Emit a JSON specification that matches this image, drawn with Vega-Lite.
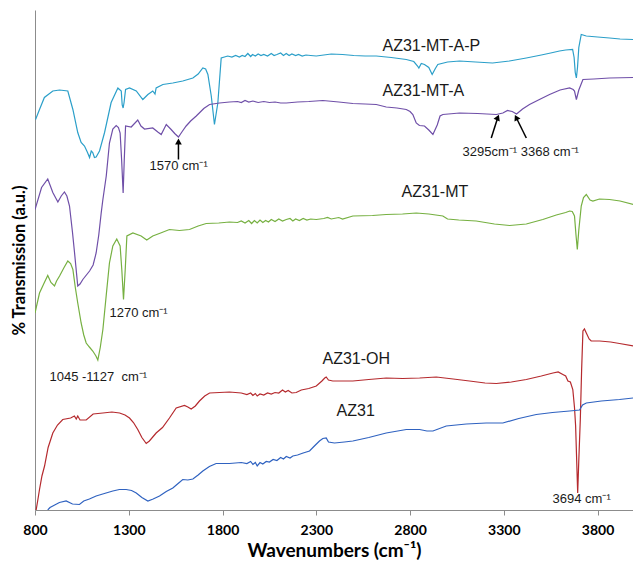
{
"$schema":"https://vega.github.io/schema/vega-lite/v6.json",
"width":598,"height":500,
"autosize":{"type":"none"},
"padding":{"left":35,"top":10,"right":0,"bottom":55},
"background":"white",
"config":{"view":{"stroke":null},
"axisX":{"tickSize":5,"tickColor":"#8c8c8c","domainColor":"#8c8c8c","grid":false,"labelFont":"Lato","labelFontWeight":"bold","labelFontSize":14,"labelColor":"#000","labelPadding":8,"labelFlush":false,"titleFont":"Lato","titleFontSize":19,"titleFontWeight":"bold","titleColor":"#000","titlePadding":4},
"axisY":{"ticks":false,"labels":false,"grid":false,"domainColor":"#8c8c8c","titleFont":"Lato","titleFontSize":16.5,"titleFontWeight":"bold","titleColor":"#000","titlePadding":8}},
"datasets":{
"spectra":[
{"s":"AZ31-MT-A-P","x":803,"y":78.1},{"s":"AZ31-MT-A-P","x":824,"y":80.1},{"s":"AZ31-MT-A-P","x":850,"y":82.5},{"s":"AZ31-MT-A-P","x":895,"y":83.8},{"s":"AZ31-MT-A-P","x":931,"y":84.0},{"s":"AZ31-MT-A-P","x":975,"y":83.8},{"s":"AZ31-MT-A-P","x":1002,"y":80.1},{"s":"AZ31-MT-A-P","x":1028,"y":75.5},{"s":"AZ31-MT-A-P","x":1046,"y":73.5},{"s":"AZ31-MT-A-P","x":1064,"y":72.8},{"s":"AZ31-MT-A-P","x":1080,"y":71.5},{"s":"AZ31-MT-A-P","x":1091,"y":70.5},{"s":"AZ31-MT-A-P","x":1100,"y":71.8},{"s":"AZ31-MT-A-P","x":1108,"y":71.5},{"s":"AZ31-MT-A-P","x":1117,"y":70.5},{"s":"AZ31-MT-A-P","x":1126,"y":70.6},{"s":"AZ31-MT-A-P","x":1144,"y":71.8},{"s":"AZ31-MT-A-P","x":1171,"y":75.5},{"s":"AZ31-MT-A-P","x":1206,"y":81.5},{"s":"AZ31-MT-A-P","x":1242,"y":84.4},{"s":"AZ31-MT-A-P","x":1260,"y":83.8},{"s":"AZ31-MT-A-P","x":1265,"y":81.0},{"s":"AZ31-MT-A-P","x":1270,"y":80.4},{"s":"AZ31-MT-A-P","x":1275,"y":81.5},{"s":"AZ31-MT-A-P","x":1283,"y":84.1},{"s":"AZ31-MT-A-P","x":1304,"y":84.4},{"s":"AZ31-MT-A-P","x":1340,"y":83.8},{"s":"AZ31-MT-A-P","x":1375,"y":82.1},{"s":"AZ31-MT-A-P","x":1402,"y":83.1},{"s":"AZ31-MT-A-P","x":1428,"y":83.8},{"s":"AZ31-MT-A-P","x":1440,"y":83.2},{"s":"AZ31-MT-A-P","x":1446,"y":84.4},{"s":"AZ31-MT-A-P","x":1482,"y":85.1},{"s":"AZ31-MT-A-P","x":1535,"y":85.4},{"s":"AZ31-MT-A-P","x":1588,"y":85.8},{"s":"AZ31-MT-A-P","x":1642,"y":86.4},{"s":"AZ31-MT-A-P","x":1670,"y":87.2},{"s":"AZ31-MT-A-P","x":1695,"y":88.4},{"s":"AZ31-MT-A-P","x":1710,"y":88.2},{"s":"AZ31-MT-A-P","x":1722,"y":87.1},{"s":"AZ31-MT-A-P","x":1740,"y":82.8},{"s":"AZ31-MT-A-P","x":1757,"y":77.1},{"s":"AZ31-MT-A-P","x":1775,"y":81.4},{"s":"AZ31-MT-A-P","x":1793,"y":90.4},{"s":"AZ31-MT-A-P","x":1828,"y":90.8},{"s":"AZ31-MT-A-P","x":1850,"y":90.6},{"s":"AZ31-MT-A-P","x":1870,"y":90.9},{"s":"AZ31-MT-A-P","x":1890,"y":90.6},{"s":"AZ31-MT-A-P","x":1905,"y":90.9},{"s":"AZ31-MT-A-P","x":1920,"y":90.7},{"s":"AZ31-MT-A-P","x":1935,"y":91.3},{"s":"AZ31-MT-A-P","x":1950,"y":90.7},{"s":"AZ31-MT-A-P","x":1960,"y":91.1},{"s":"AZ31-MT-A-P","x":1975,"y":90.8},{"s":"AZ31-MT-A-P","x":1990,"y":91.2},{"s":"AZ31-MT-A-P","x":2005,"y":90.9},{"s":"AZ31-MT-A-P","x":2020,"y":91.1},{"s":"AZ31-MT-A-P","x":2040,"y":90.8},{"s":"AZ31-MT-A-P","x":2060,"y":91.3},{"s":"AZ31-MT-A-P","x":2075,"y":90.9},{"s":"AZ31-MT-A-P","x":2090,"y":91.1},{"s":"AZ31-MT-A-P","x":2110,"y":91.4},{"s":"AZ31-MT-A-P","x":2125,"y":90.9},{"s":"AZ31-MT-A-P","x":2140,"y":91.3},{"s":"AZ31-MT-A-P","x":2155,"y":90.9},{"s":"AZ31-MT-A-P","x":2170,"y":91.2},{"s":"AZ31-MT-A-P","x":2190,"y":90.9},{"s":"AZ31-MT-A-P","x":2205,"y":91.1},{"s":"AZ31-MT-A-P","x":2225,"y":90.8},{"s":"AZ31-MT-A-P","x":2245,"y":91.0},{"s":"AZ31-MT-A-P","x":2270,"y":90.9},{"s":"AZ31-MT-A-P","x":2300,"y":90.8},{"s":"AZ31-MT-A-P","x":2340,"y":91.0},{"s":"AZ31-MT-A-P","x":2380,"y":91.2},{"s":"AZ31-MT-A-P","x":2440,"y":91.1},{"s":"AZ31-MT-A-P","x":2500,"y":90.9},{"s":"AZ31-MT-A-P","x":2560,"y":90.8},{"s":"AZ31-MT-A-P","x":2620,"y":90.8},{"s":"AZ31-MT-A-P","x":2700,"y":90.5},{"s":"AZ31-MT-A-P","x":2780,"y":90.1},{"s":"AZ31-MT-A-P","x":2820,"y":89.7},{"s":"AZ31-MT-A-P","x":2840,"y":88.8},{"s":"AZ31-MT-A-P","x":2847,"y":88.4},{"s":"AZ31-MT-A-P","x":2860,"y":89.3},{"s":"AZ31-MT-A-P","x":2877,"y":89.1},{"s":"AZ31-MT-A-P","x":2900,"y":88.5},{"s":"AZ31-MT-A-P","x":2918,"y":87.1},{"s":"AZ31-MT-A-P","x":2935,"y":88.3},{"s":"AZ31-MT-A-P","x":2948,"y":89.1},{"s":"AZ31-MT-A-P","x":3000,"y":89.6},{"s":"AZ31-MT-A-P","x":3064,"y":89.8},{"s":"AZ31-MT-A-P","x":3150,"y":89.6},{"s":"AZ31-MT-A-P","x":3240,"y":89.4},{"s":"AZ31-MT-A-P","x":3330,"y":89.8},{"s":"AZ31-MT-A-P","x":3420,"y":90.4},{"s":"AZ31-MT-A-P","x":3500,"y":91.0},{"s":"AZ31-MT-A-P","x":3550,"y":91.4},{"s":"AZ31-MT-A-P","x":3597,"y":91.8},{"s":"AZ31-MT-A-P","x":3630,"y":92.0},{"s":"AZ31-MT-A-P","x":3667,"y":92.1},{"s":"AZ31-MT-A-P","x":3675,"y":90.5},{"s":"AZ31-MT-A-P","x":3681,"y":87.5},{"s":"AZ31-MT-A-P","x":3687,"y":86.4},{"s":"AZ31-MT-A-P","x":3693,"y":88.5},{"s":"AZ31-MT-A-P","x":3700,"y":92.5},{"s":"AZ31-MT-A-P","x":3713,"y":95.1},{"s":"AZ31-MT-A-P","x":3740,"y":94.8},{"s":"AZ31-MT-A-P","x":3800,"y":94.6},{"s":"AZ31-MT-A-P","x":3864,"y":94.4},{"s":"AZ31-MT-A-P","x":3920,"y":94.2},{"s":"AZ31-MT-A-P","x":3990,"y":94.1},
{"s":"AZ31-MT-A","x":800,"y":60.1},{"s":"AZ31-MT-A","x":835,"y":64.5},{"s":"AZ31-MT-A","x":868,"y":66.2},{"s":"AZ31-MT-A","x":895,"y":63.5},{"s":"AZ31-MT-A","x":922,"y":61.6},{"s":"AZ31-MT-A","x":940,"y":62.8},{"s":"AZ31-MT-A","x":957,"y":63.6},{"s":"AZ31-MT-A","x":970,"y":62.8},{"s":"AZ31-MT-A","x":984,"y":60.8},{"s":"AZ31-MT-A","x":1000,"y":55.5},{"s":"AZ31-MT-A","x":1011,"y":51.4},{"s":"AZ31-MT-A","x":1028,"y":44.8},{"s":"AZ31-MT-A","x":1040,"y":45.2},{"s":"AZ31-MT-A","x":1055,"y":46.1},{"s":"AZ31-MT-A","x":1091,"y":47.8},{"s":"AZ31-MT-A","x":1110,"y":49.0},{"s":"AZ31-MT-A","x":1126,"y":51.4},{"s":"AZ31-MT-A","x":1140,"y":55.0},{"s":"AZ31-MT-A","x":1153,"y":59.4},{"s":"AZ31-MT-A","x":1162,"y":62.1},{"s":"AZ31-MT-A","x":1180,"y":66.8},{"s":"AZ31-MT-A","x":1197,"y":73.4},{"s":"AZ31-MT-A","x":1215,"y":76.2},{"s":"AZ31-MT-A","x":1233,"y":76.9},{"s":"AZ31-MT-A","x":1245,"y":76.5},{"s":"AZ31-MT-A","x":1254,"y":75.4},{"s":"AZ31-MT-A","x":1262,"y":70.0},{"s":"AZ31-MT-A","x":1270,"y":63.4},{"s":"AZ31-MT-A","x":1276,"y":70.0},{"s":"AZ31-MT-A","x":1283,"y":76.8},{"s":"AZ31-MT-A","x":1313,"y":76.6},{"s":"AZ31-MT-A","x":1348,"y":78.0},{"s":"AZ31-MT-A","x":1365,"y":76.8},{"s":"AZ31-MT-A","x":1384,"y":76.2},{"s":"AZ31-MT-A","x":1428,"y":76.4},{"s":"AZ31-MT-A","x":1455,"y":75.6},{"s":"AZ31-MT-A","x":1473,"y":75.1},{"s":"AZ31-MT-A","x":1500,"y":77.1},{"s":"AZ31-MT-A","x":1526,"y":76.1},{"s":"AZ31-MT-A","x":1545,"y":75.3},{"s":"AZ31-MT-A","x":1565,"y":74.6},{"s":"AZ31-MT-A","x":1585,"y":75.7},{"s":"AZ31-MT-A","x":1606,"y":76.8},{"s":"AZ31-MT-A","x":1630,"y":77.8},{"s":"AZ31-MT-A","x":1660,"y":78.8},{"s":"AZ31-MT-A","x":1700,"y":80.3},{"s":"AZ31-MT-A","x":1731,"y":81.1},{"s":"AZ31-MT-A","x":1784,"y":81.4},{"s":"AZ31-MT-A","x":1837,"y":81.6},{"s":"AZ31-MT-A","x":1880,"y":81.7},{"s":"AZ31-MT-A","x":1900,"y":81.5},{"s":"AZ31-MT-A","x":1920,"y":81.9},{"s":"AZ31-MT-A","x":1940,"y":81.6},{"s":"AZ31-MT-A","x":1962,"y":81.8},{"s":"AZ31-MT-A","x":1990,"y":81.5},{"s":"AZ31-MT-A","x":2020,"y":81.7},{"s":"AZ31-MT-A","x":2050,"y":81.5},{"s":"AZ31-MT-A","x":2080,"y":81.6},{"s":"AZ31-MT-A","x":2110,"y":81.4},{"s":"AZ31-MT-A","x":2140,"y":81.4},{"s":"AZ31-MT-A","x":2200,"y":81.6},{"s":"AZ31-MT-A","x":2260,"y":81.7},{"s":"AZ31-MT-A","x":2335,"y":81.9},{"s":"AZ31-MT-A","x":2420,"y":81.6},{"s":"AZ31-MT-A","x":2495,"y":81.3},{"s":"AZ31-MT-A","x":2560,"y":81.2},{"s":"AZ31-MT-A","x":2620,"y":81.1},{"s":"AZ31-MT-A","x":2673,"y":80.6},{"s":"AZ31-MT-A","x":2730,"y":80.4},{"s":"AZ31-MT-A","x":2780,"y":80.1},{"s":"AZ31-MT-A","x":2800,"y":79.7},{"s":"AZ31-MT-A","x":2815,"y":79.1},{"s":"AZ31-MT-A","x":2833,"y":77.4},{"s":"AZ31-MT-A","x":2850,"y":76.9},{"s":"AZ31-MT-A","x":2877,"y":76.8},{"s":"AZ31-MT-A","x":2900,"y":76.0},{"s":"AZ31-MT-A","x":2922,"y":75.1},{"s":"AZ31-MT-A","x":2945,"y":77.0},{"s":"AZ31-MT-A","x":2960,"y":78.8},{"s":"AZ31-MT-A","x":2975,"y":79.1},{"s":"AZ31-MT-A","x":3064,"y":79.4},{"s":"AZ31-MT-A","x":3160,"y":79.3},{"s":"AZ31-MT-A","x":3260,"y":79.1},{"s":"AZ31-MT-A","x":3295,"y":79.4},{"s":"AZ31-MT-A","x":3320,"y":79.9},{"s":"AZ31-MT-A","x":3345,"y":79.7},{"s":"AZ31-MT-A","x":3368,"y":79.2},{"s":"AZ31-MT-A","x":3400,"y":80.2},{"s":"AZ31-MT-A","x":3437,"y":81.1},{"s":"AZ31-MT-A","x":3490,"y":82.1},{"s":"AZ31-MT-A","x":3544,"y":83.1},{"s":"AZ31-MT-A","x":3600,"y":84.0},{"s":"AZ31-MT-A","x":3651,"y":84.4},{"s":"AZ31-MT-A","x":3670,"y":84.1},{"s":"AZ31-MT-A","x":3677,"y":83.8},{"s":"AZ31-MT-A","x":3687,"y":82.1},{"s":"AZ31-MT-A","x":3700,"y":84.0},{"s":"AZ31-MT-A","x":3722,"y":86.1},{"s":"AZ31-MT-A","x":3780,"y":86.2},{"s":"AZ31-MT-A","x":3864,"y":86.4},{"s":"AZ31-MT-A","x":3990,"y":86.5},
{"s":"AZ31-MT","x":800,"y":39.4},{"s":"AZ31-MT","x":824,"y":43.4},{"s":"AZ31-MT","x":850,"y":45.5},{"s":"AZ31-MT","x":868,"y":46.9},{"s":"AZ31-MT","x":885,"y":45.5},{"s":"AZ31-MT","x":904,"y":44.8},{"s":"AZ31-MT","x":915,"y":45.8},{"s":"AZ31-MT","x":931,"y":46.8},{"s":"AZ31-MT","x":955,"y":48.5},{"s":"AZ31-MT","x":975,"y":49.8},{"s":"AZ31-MT","x":990,"y":49.3},{"s":"AZ31-MT","x":1002,"y":48.1},{"s":"AZ31-MT","x":1015,"y":44.5},{"s":"AZ31-MT","x":1028,"y":41.4},{"s":"AZ31-MT","x":1046,"y":37.4},{"s":"AZ31-MT","x":1060,"y":35.0},{"s":"AZ31-MT","x":1073,"y":33.4},{"s":"AZ31-MT","x":1090,"y":32.6},{"s":"AZ31-MT","x":1108,"y":31.8},{"s":"AZ31-MT","x":1125,"y":30.8},{"s":"AZ31-MT","x":1135,"y":30.0},{"s":"AZ31-MT","x":1148,"y":32.5},{"s":"AZ31-MT","x":1162,"y":36.1},{"s":"AZ31-MT","x":1180,"y":43.0},{"s":"AZ31-MT","x":1197,"y":49.4},{"s":"AZ31-MT","x":1215,"y":52.8},{"s":"AZ31-MT","x":1236,"y":54.2},{"s":"AZ31-MT","x":1254,"y":52.8},{"s":"AZ31-MT","x":1263,"y":48.0},{"s":"AZ31-MT","x":1272,"y":42.1},{"s":"AZ31-MT","x":1281,"y":48.0},{"s":"AZ31-MT","x":1290,"y":54.8},{"s":"AZ31-MT","x":1322,"y":55.4},{"s":"AZ31-MT","x":1366,"y":54.8},{"s":"AZ31-MT","x":1396,"y":54.0},{"s":"AZ31-MT","x":1428,"y":54.8},{"s":"AZ31-MT","x":1470,"y":55.4},{"s":"AZ31-MT","x":1517,"y":56.1},{"s":"AZ31-MT","x":1570,"y":55.9},{"s":"AZ31-MT","x":1624,"y":56.1},{"s":"AZ31-MT","x":1670,"y":56.8},{"s":"AZ31-MT","x":1713,"y":57.3},{"s":"AZ31-MT","x":1780,"y":57.4},{"s":"AZ31-MT","x":1837,"y":57.6},{"s":"AZ31-MT","x":1880,"y":57.5},{"s":"AZ31-MT","x":1900,"y":57.8},{"s":"AZ31-MT","x":1920,"y":57.4},{"s":"AZ31-MT","x":1940,"y":57.9},{"s":"AZ31-MT","x":1955,"y":57.3},{"s":"AZ31-MT","x":1970,"y":57.9},{"s":"AZ31-MT","x":1985,"y":57.4},{"s":"AZ31-MT","x":2000,"y":58.0},{"s":"AZ31-MT","x":2015,"y":57.5},{"s":"AZ31-MT","x":2030,"y":57.9},{"s":"AZ31-MT","x":2045,"y":57.6},{"s":"AZ31-MT","x":2060,"y":58.1},{"s":"AZ31-MT","x":2080,"y":57.7},{"s":"AZ31-MT","x":2100,"y":58.2},{"s":"AZ31-MT","x":2120,"y":57.8},{"s":"AZ31-MT","x":2140,"y":58.1},{"s":"AZ31-MT","x":2160,"y":58.3},{"s":"AZ31-MT","x":2175,"y":57.8},{"s":"AZ31-MT","x":2190,"y":58.2},{"s":"AZ31-MT","x":2210,"y":57.9},{"s":"AZ31-MT","x":2230,"y":58.3},{"s":"AZ31-MT","x":2250,"y":58.0},{"s":"AZ31-MT","x":2270,"y":58.2},{"s":"AZ31-MT","x":2300,"y":58.1},{"s":"AZ31-MT","x":2340,"y":58.3},{"s":"AZ31-MT","x":2360,"y":58.5},{"s":"AZ31-MT","x":2380,"y":58.2},{"s":"AZ31-MT","x":2420,"y":58.5},{"s":"AZ31-MT","x":2440,"y":58.2},{"s":"AZ31-MT","x":2495,"y":58.8},{"s":"AZ31-MT","x":2600,"y":58.9},{"s":"AZ31-MT","x":2673,"y":59.1},{"s":"AZ31-MT","x":2760,"y":59.2},{"s":"AZ31-MT","x":2833,"y":59.4},{"s":"AZ31-MT","x":2900,"y":59.2},{"s":"AZ31-MT","x":2975,"y":58.8},{"s":"AZ31-MT","x":3000,"y":58.2},{"s":"AZ31-MT","x":3060,"y":58.0},{"s":"AZ31-MT","x":3153,"y":57.8},{"s":"AZ31-MT","x":3250,"y":57.2},{"s":"AZ31-MT","x":3331,"y":56.9},{"s":"AZ31-MT","x":3420,"y":57.2},{"s":"AZ31-MT","x":3508,"y":58.1},{"s":"AZ31-MT","x":3580,"y":59.0},{"s":"AZ31-MT","x":3630,"y":59.5},{"s":"AZ31-MT","x":3651,"y":59.8},{"s":"AZ31-MT","x":3665,"y":59.7},{"s":"AZ31-MT","x":3677,"y":58.8},{"s":"AZ31-MT","x":3685,"y":55.0},{"s":"AZ31-MT","x":3692,"y":52.1},{"s":"AZ31-MT","x":3700,"y":56.0},{"s":"AZ31-MT","x":3713,"y":60.8},{"s":"AZ31-MT","x":3725,"y":62.5},{"s":"AZ31-MT","x":3740,"y":63.1},{"s":"AZ31-MT","x":3760,"y":62.0},{"s":"AZ31-MT","x":3775,"y":61.8},{"s":"AZ31-MT","x":3810,"y":62.2},{"s":"AZ31-MT","x":3864,"y":62.1},{"s":"AZ31-MT","x":3920,"y":61.8},{"s":"AZ31-MT","x":3990,"y":61.1},
{"s":"AZ31-OH","x":806,"y":0.0},{"s":"AZ31-OH","x":815,"y":2.0},{"s":"AZ31-OH","x":824,"y":4.1},{"s":"AZ31-OH","x":837,"y":6.8},{"s":"AZ31-OH","x":851,"y":8.8},{"s":"AZ31-OH","x":870,"y":12.5},{"s":"AZ31-OH","x":895,"y":15.4},{"s":"AZ31-OH","x":920,"y":17.0},{"s":"AZ31-OH","x":948,"y":18.1},{"s":"AZ31-OH","x":990,"y":18.4},{"s":"AZ31-OH","x":1010,"y":18.8},{"s":"AZ31-OH","x":1020,"y":18.2},{"s":"AZ31-OH","x":1028,"y":18.8},{"s":"AZ31-OH","x":1040,"y":18.0},{"s":"AZ31-OH","x":1073,"y":18.0},{"s":"AZ31-OH","x":1110,"y":19.2},{"s":"AZ31-OH","x":1162,"y":19.4},{"s":"AZ31-OH","x":1210,"y":19.6},{"s":"AZ31-OH","x":1251,"y":19.4},{"s":"AZ31-OH","x":1280,"y":19.0},{"s":"AZ31-OH","x":1304,"y":18.4},{"s":"AZ31-OH","x":1325,"y":17.5},{"s":"AZ31-OH","x":1348,"y":16.1},{"s":"AZ31-OH","x":1370,"y":14.5},{"s":"AZ31-OH","x":1393,"y":13.3},{"s":"AZ31-OH","x":1410,"y":13.8},{"s":"AZ31-OH","x":1446,"y":15.4},{"s":"AZ31-OH","x":1480,"y":16.5},{"s":"AZ31-OH","x":1517,"y":18.4},{"s":"AZ31-OH","x":1553,"y":20.4},{"s":"AZ31-OH","x":1597,"y":20.9},{"s":"AZ31-OH","x":1615,"y":20.6},{"s":"AZ31-OH","x":1633,"y":20.2},{"s":"AZ31-OH","x":1655,"y":20.8},{"s":"AZ31-OH","x":1677,"y":21.8},{"s":"AZ31-OH","x":1705,"y":22.8},{"s":"AZ31-OH","x":1731,"y":23.4},{"s":"AZ31-OH","x":1837,"y":23.6},{"s":"AZ31-OH","x":1900,"y":23.4},{"s":"AZ31-OH","x":1930,"y":23.1},{"s":"AZ31-OH","x":1950,"y":23.4},{"s":"AZ31-OH","x":1962,"y":22.9},{"s":"AZ31-OH","x":1975,"y":23.3},{"s":"AZ31-OH","x":1985,"y":22.8},{"s":"AZ31-OH","x":2000,"y":23.2},{"s":"AZ31-OH","x":2020,"y":23.0},{"s":"AZ31-OH","x":2040,"y":23.4},{"s":"AZ31-OH","x":2060,"y":23.2},{"s":"AZ31-OH","x":2080,"y":23.5},{"s":"AZ31-OH","x":2100,"y":23.4},{"s":"AZ31-OH","x":2120,"y":24.0},{"s":"AZ31-OH","x":2135,"y":23.6},{"s":"AZ31-OH","x":2150,"y":23.9},{"s":"AZ31-OH","x":2170,"y":23.4},{"s":"AZ31-OH","x":2193,"y":23.5},{"s":"AZ31-OH","x":2220,"y":24.0},{"s":"AZ31-OH","x":2260,"y":24.3},{"s":"AZ31-OH","x":2300,"y":24.8},{"s":"AZ31-OH","x":2330,"y":25.8},{"s":"AZ31-OH","x":2345,"y":26.4},{"s":"AZ31-OH","x":2353,"y":26.6},{"s":"AZ31-OH","x":2365,"y":26.0},{"s":"AZ31-OH","x":2388,"y":25.8},{"s":"AZ31-OH","x":2450,"y":25.8},{"s":"AZ31-OH","x":2495,"y":25.8},{"s":"AZ31-OH","x":2580,"y":26.1},{"s":"AZ31-OH","x":2673,"y":26.4},{"s":"AZ31-OH","x":2760,"y":26.3},{"s":"AZ31-OH","x":2851,"y":26.4},{"s":"AZ31-OH","x":2940,"y":26.6},{"s":"AZ31-OH","x":3030,"y":26.2},{"s":"AZ31-OH","x":3117,"y":25.8},{"s":"AZ31-OH","x":3200,"y":25.4},{"s":"AZ31-OH","x":3260,"y":25.3},{"s":"AZ31-OH","x":3340,"y":25.6},{"s":"AZ31-OH","x":3420,"y":26.1},{"s":"AZ31-OH","x":3500,"y":26.8},{"s":"AZ31-OH","x":3562,"y":27.4},{"s":"AZ31-OH","x":3590,"y":27.6},{"s":"AZ31-OH","x":3615,"y":27.1},{"s":"AZ31-OH","x":3630,"y":26.8},{"s":"AZ31-OH","x":3642,"y":25.8},{"s":"AZ31-OH","x":3655,"y":25.6},{"s":"AZ31-OH","x":3668,"y":24.1},{"s":"AZ31-OH","x":3677,"y":20.5},{"s":"AZ31-OH","x":3683,"y":16.8},{"s":"AZ31-OH","x":3694,"y":3.4},{"s":"AZ31-OH","x":3700,"y":10.0},{"s":"AZ31-OH","x":3708,"y":18.1},{"s":"AZ31-OH","x":3715,"y":28.0},{"s":"AZ31-OH","x":3722,"y":35.8},{"s":"AZ31-OH","x":3730,"y":36.2},{"s":"AZ31-OH","x":3740,"y":35.4},{"s":"AZ31-OH","x":3755,"y":34.2},{"s":"AZ31-OH","x":3766,"y":33.8},{"s":"AZ31-OH","x":3811,"y":33.8},{"s":"AZ31-OH","x":3870,"y":33.6},{"s":"AZ31-OH","x":3917,"y":33.3},{"s":"AZ31-OH","x":3990,"y":32.8},
{"s":"AZ31","x":868,"y":0.0},{"s":"AZ31","x":880,"y":0.5},{"s":"AZ31","x":895,"y":0.8},{"s":"AZ31","x":930,"y":1.5},{"s":"AZ31","x":966,"y":1.8},{"s":"AZ31","x":1000,"y":1.2},{"s":"AZ31","x":1037,"y":1.1},{"s":"AZ31","x":1060,"y":1.8},{"s":"AZ31","x":1090,"y":2.2},{"s":"AZ31","x":1126,"y":2.8},{"s":"AZ31","x":1170,"y":3.3},{"s":"AZ31","x":1215,"y":3.8},{"s":"AZ31","x":1250,"y":4.1},{"s":"AZ31","x":1286,"y":4.1},{"s":"AZ31","x":1315,"y":3.9},{"s":"AZ31","x":1340,"y":3.4},{"s":"AZ31","x":1370,"y":2.5},{"s":"AZ31","x":1402,"y":1.8},{"s":"AZ31","x":1430,"y":2.2},{"s":"AZ31","x":1464,"y":2.8},{"s":"AZ31","x":1500,"y":3.7},{"s":"AZ31","x":1535,"y":4.4},{"s":"AZ31","x":1560,"y":5.2},{"s":"AZ31","x":1588,"y":6.1},{"s":"AZ31","x":1615,"y":6.0},{"s":"AZ31","x":1642,"y":6.2},{"s":"AZ31","x":1670,"y":7.0},{"s":"AZ31","x":1695,"y":7.8},{"s":"AZ31","x":1730,"y":8.7},{"s":"AZ31","x":1766,"y":9.3},{"s":"AZ31","x":1837,"y":9.3},{"s":"AZ31","x":1900,"y":9.5},{"s":"AZ31","x":1930,"y":9.3},{"s":"AZ31","x":1950,"y":9.7},{"s":"AZ31","x":1962,"y":9.1},{"s":"AZ31","x":1975,"y":9.5},{"s":"AZ31","x":1985,"y":8.8},{"s":"AZ31","x":2000,"y":9.5},{"s":"AZ31","x":2015,"y":9.2},{"s":"AZ31","x":2033,"y":9.7},{"s":"AZ31","x":2050,"y":9.6},{"s":"AZ31","x":2070,"y":10.1},{"s":"AZ31","x":2090,"y":9.9},{"s":"AZ31","x":2110,"y":10.5},{"s":"AZ31","x":2125,"y":10.2},{"s":"AZ31","x":2140,"y":10.7},{"s":"AZ31","x":2160,"y":10.4},{"s":"AZ31","x":2175,"y":10.8},{"s":"AZ31","x":2200,"y":11.0},{"s":"AZ31","x":2230,"y":11.4},{"s":"AZ31","x":2264,"y":11.8},{"s":"AZ31","x":2290,"y":12.8},{"s":"AZ31","x":2317,"y":13.8},{"s":"AZ31","x":2335,"y":14.3},{"s":"AZ31","x":2353,"y":14.4},{"s":"AZ31","x":2365,"y":13.6},{"s":"AZ31","x":2397,"y":13.4},{"s":"AZ31","x":2450,"y":13.6},{"s":"AZ31","x":2495,"y":13.8},{"s":"AZ31","x":2580,"y":14.5},{"s":"AZ31","x":2673,"y":15.4},{"s":"AZ31","x":2780,"y":16.1},{"s":"AZ31","x":2851,"y":16.1},{"s":"AZ31","x":2890,"y":15.8},{"s":"AZ31","x":2922,"y":15.8},{"s":"AZ31","x":2993,"y":16.8},{"s":"AZ31","x":3100,"y":17.2},{"s":"AZ31","x":3206,"y":17.4},{"s":"AZ31","x":3295,"y":17.4},{"s":"AZ31","x":3380,"y":18.3},{"s":"AZ31","x":3473,"y":19.1},{"s":"AZ31","x":3560,"y":19.5},{"s":"AZ31","x":3651,"y":19.8},{"s":"AZ31","x":3704,"y":20.0},{"s":"AZ31","x":3720,"y":21.0},{"s":"AZ31","x":3740,"y":21.4},{"s":"AZ31","x":3820,"y":21.8},{"s":"AZ31","x":3917,"y":22.1},{"s":"AZ31","x":3990,"y":22.4}
],
"labels":[
{"t":"AZ31-MT-A-P","x":2653,"y":92.9},{"t":"AZ31-MT-A","x":2653,"y":83.9},{"t":"AZ31-MT","x":2755,"y":63.7},{"t":"AZ31-OH","x":2333,"y":30.3},{"t":"AZ31","x":2408,"y":19.9}
],
"notes":[
{"t":"1570 cm⁻¹","x":1411,"y":68.9},{"t":"3295cm⁻¹ 3368 cm⁻¹","x":3080,"y":71.7},{"t":"1270 cm⁻¹","x":1197,"y":39.5},{"t":"1045 -1127\u00a0 cm⁻¹","x":877,"y":26.7},{"t":"3694 cm⁻¹","x":3560,"y":2.3}
],
"arrows":[
{"a":"1570","x":1565,"y":70.1,"x2":1565,"y2":73.7},{"a":"3295","x":3233,"y":74.4,"x2":3268,"y2":78.5},{"a":"3368","x":3420,"y":74.4,"x2":3366,"y2":78.5}
]},
"layer":[
{"mark":{"type":"rule","color":"#8c8c8c","strokeWidth":1},"encoding":{"y":{"datum":100,"type":"quantitative"}}},
{"data":{"name":"spectra"},"mark":{"type":"line","strokeWidth":1.2,"clip":true},
"encoding":{"x":{"field":"x","type":"quantitative","title":"Wavenumbers (cm⁻¹)","scale":{"domain":[800,3989],"nice":false,"zero":false},"axis":{"values":[800,1300,1800,2300,2800,3300,3800],"format":"d"}},
"y":{"field":"y","type":"quantitative","title":"% Transmission (a.u.)","scale":{"domain":[0,100],"nice":false}},
"color":{"field":"s","type":"nominal","legend":null,"scale":{"domain":["AZ31-MT-A-P","AZ31-MT-A","AZ31-MT","AZ31-OH","AZ31"],"range":["#2B9FC9","#6F4FA8","#76B041","#B52A2E","#2F62C0"]}}}},
{"data":{"name":"labels"},"mark":{"type":"text","align":"left","baseline":"middle","font":"Liberation Sans","fontSize":16,"color":"#1a1a1a"},
"encoding":{"x":{"field":"x","type":"quantitative","title":"Wavenumbers (cm⁻¹)"},"y":{"field":"y","type":"quantitative","title":"% Transmission (a.u.)"},"text":{"field":"t"}}},
{"data":{"name":"notes"},"mark":{"type":"text","align":"left","baseline":"middle","font":"Liberation Sans","fontSize":13,"color":"#1a1a1a"},
"encoding":{"x":{"field":"x","type":"quantitative","title":"Wavenumbers (cm⁻¹)"},"y":{"field":"y","type":"quantitative","title":"% Transmission (a.u.)"},"text":{"field":"t"}}},
{"data":{"name":"arrows"},"mark":{"type":"rule","color":"#000","strokeWidth":1.5},
"encoding":{"x":{"field":"x","type":"quantitative","title":"Wavenumbers (cm⁻¹)"},"y":{"field":"y","type":"quantitative","title":"% Transmission (a.u.)"},"x2":{"field":"x2"},"y2":{"field":"y2"}}},
{"data":{"name":"arrows"},"transform":[{"filter":"datum.a == '1570'"}],"mark":{"type":"point","shape":"triangle-up","filled":true,"color":"#000","size":45,"opacity":1,"angle":0},
"encoding":{"x":{"field":"x2","type":"quantitative","title":"Wavenumbers (cm⁻¹)"},"y":{"field":"y2","type":"quantitative","title":"% Transmission (a.u.)"}}},
{"data":{"name":"arrows"},"transform":[{"filter":"datum.a == '3295'"}],"mark":{"type":"point","shape":"triangle-up","filled":true,"color":"#000","size":45,"opacity":1,"angle":23},
"encoding":{"x":{"field":"x2","type":"quantitative","title":"Wavenumbers (cm⁻¹)"},"y":{"field":"y2","type":"quantitative","title":"% Transmission (a.u.)"}}},
{"data":{"name":"arrows"},"transform":[{"filter":"datum.a == '3368'"}],"mark":{"type":"point","shape":"triangle-up","filled":true,"color":"#000","size":45,"opacity":1,"angle":333},
"encoding":{"x":{"field":"x2","type":"quantitative","title":"Wavenumbers (cm⁻¹)"},"y":{"field":"y2","type":"quantitative","title":"% Transmission (a.u.)"}}}
]
}
